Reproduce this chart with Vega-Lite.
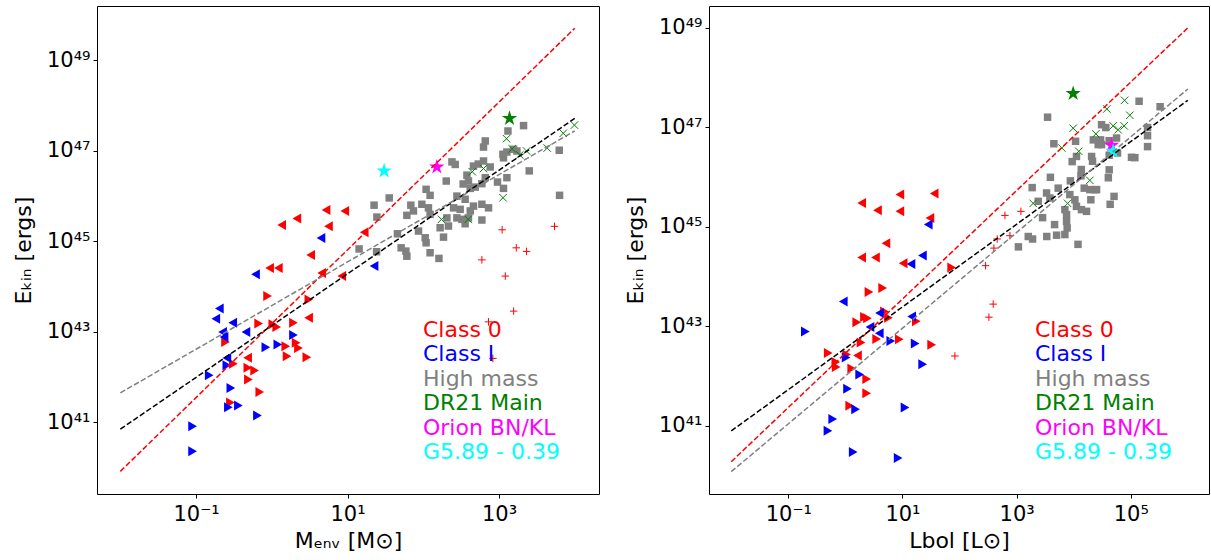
{
"$schema": "https://vega.github.io/schema/vega-lite/v6.json",
"padding": {"left": 11, "top": 5, "right": 2, "bottom": 5},
"bounds": "flush",
"spacing": 110,
"config": {
  "font": "DejaVu Sans",
  "view": {"stroke": "#000", "strokeWidth": 1},
  "axis": {"grid": false, "domain": false, "tickColor": "#000", "tickSize": 4, "labelColor": "#000", "titleColor": "#000", "labelFont": "DejaVu Sans", "titleFont": "DejaVu Sans", "labelFontSize": 21, "titleFontSize": 22, "titleFontWeight": "normal", "labelFlush": false, "labelOverlap": false},
  "legend": {"padding": 0}
},
"resolve": {"scale": {"color": "independent", "shape": "independent"}, "legend": {"color": "independent"}},
"datasets": {
"left": [
{"g":"Class 0","s":"tri-left","x":5.2,"y":4.9e45},{"g":"Class 0","s":"tri-left","x":9.2,"y":4.7e45},{"g":"Class 0","s":"tri-left","x":2.14,"y":3.2e45},{"g":"Class 0","s":"tri-left","x":1.35,"y":2.3e45},{"g":"Class 0","s":"tri-left","x":5.6,"y":2.16e45},{"g":"Class 0","s":"tri-left","x":16.6,"y":1.6e45},{"g":"Class 0","s":"tri-left","x":3.26,"y":5.0e44},{"g":"Class 0","s":"tri-left","x":0.935,"y":2.57e44},{"g":"Class 0","s":"tri-left","x":1.22,"y":2.57e44},{"g":"Class 0","s":"tri-left","x":4.55,"y":2.0e44},{"g":"Class 0","s":"tri-left","x":8.4,"y":1.71e44},{"g":"Class 0","s":"tri-left","x":3.06,"y":2.05e43},{"g":"Class 0","s":"tri-left","x":0.479,"y":2.7e42},
{"g":"Class 0","s":"tri-right","x":0.88,"y":6.2e43},{"g":"Class 0","s":"tri-right","x":3.08,"y":5.2e43},{"g":"Class 0","s":"tri-right","x":0.67,"y":1.54e43},{"g":"Class 0","s":"tri-right","x":1.03,"y":1.47e43},{"g":"Class 0","s":"tri-right","x":1.16,"y":1.28e43},{"g":"Class 0","s":"tri-right","x":1.93,"y":1.6e43},{"g":"Class 0","s":"tri-right","x":0.245,"y":5.96e42},{"g":"Class 0","s":"tri-right","x":1.53,"y":4.85e42},{"g":"Class 0","s":"tri-right","x":2.09,"y":5.8e42},{"g":"Class 0","s":"tri-right","x":2.25,"y":4.4e42},{"g":"Class 0","s":"tri-right","x":1.59,"y":2.9e42},{"g":"Class 0","s":"tri-right","x":2.9,"y":2.77e42},{"g":"Class 0","s":"tri-right","x":0.311,"y":1.97e42},{"g":"Class 0","s":"tri-right","x":0.482,"y":1.61e42},{"g":"Class 0","s":"tri-right","x":0.593,"y":1.41e42},{"g":"Class 0","s":"tri-right","x":0.491,"y":8.9e41},{"g":"Class 0","s":"tri-right","x":0.693,"y":4.68e41},{"g":"Class 0","s":"tri-right","x":0.284,"y":2.77e41},
{"g":"Class 0","s":"plus","x":1100,"y":1.8e45},{"g":"Class 0","s":"plus","x":5400,"y":2.15e45},{"g":"Class 0","s":"plus","x":1690,"y":7.2e44},{"g":"Class 0","s":"plus","x":2310,"y":6.0e44},{"g":"Class 0","s":"plus","x":594,"y":3.9e44},{"g":"Class 0","s":"plus","x":1210,"y":1.71e44},{"g":"Class 0","s":"plus","x":1560,"y":2.88e43},{"g":"Class 0","s":"plus","x":727,"y":1.67e43},{"g":"Class 0","s":"plus","x":830,"y":2.6e42},
{"g":"Class I","s":"tri-left","x":4.46,"y":1.18e45},{"g":"Class I","s":"tri-left","x":22.4,"y":2.84e44},{"g":"Class I","s":"tri-left","x":0.61,"y":1.87e44},{"g":"Class I","s":"tri-left","x":0.203,"y":3.3e43},{"g":"Class I","s":"tri-left","x":0.182,"y":1.95e43},{"g":"Class I","s":"tri-left","x":0.305,"y":1.59e43},{"g":"Class I","s":"tri-left","x":0.224,"y":9.9e42},{"g":"Class I","s":"tri-left","x":0.455,"y":9.9e42},{"g":"Class I","s":"tri-left","x":0.234,"y":7.7e42},{"g":"Class I","s":"tri-left","x":0.255,"y":2.64e42},
{"g":"Class I","s":"tri-right","x":1.93,"y":8.5e42},{"g":"Class I","s":"tri-right","x":0.834,"y":4.6e42},{"g":"Class I","s":"tri-right","x":1.2,"y":5.3e42},{"g":"Class I","s":"tri-right","x":0.255,"y":1.83e42},{"g":"Class I","s":"tri-right","x":0.149,"y":1.1e42},{"g":"Class I","s":"tri-right","x":0.288,"y":5.8e41},{"g":"Class I","s":"tri-right","x":0.267,"y":2.18e41},{"g":"Class I","s":"tri-right","x":0.362,"y":2.38e41},{"g":"Class I","s":"tri-right","x":0.646,"y":1.43e41},{"g":"Class I","s":"tri-right","x":0.09,"y":8.2e40},{"g":"Class I","s":"tri-right","x":0.09,"y":2.32e40},
{"g":"High mass","s":"square","x":22.4,"y":6.3e45},{"g":"High mass","s":"square","x":35.5,"y":9.1e45},{"g":"High mass","s":"square","x":24.4,"y":3.44e45},{"g":"High mass","s":"square","x":14.2,"y":6.8e44},{"g":"High mass","s":"square","x":24.2,"y":5.9e44},{"g":"High mass","s":"square","x":45.6,"y":1.47e45},{"g":"High mass","s":"square","x":51,"y":7.2e44},{"g":"High mass","s":"square","x":58.9,"y":6.1e44},{"g":"High mass","s":"square","x":60.7,"y":4.7e44},{"g":"High mass","s":"square","x":68.5,"y":6.3e45},{"g":"High mass","s":"square","x":60.7,"y":3.76e45},{"g":"High mass","s":"square","x":74.2,"y":4.7e45},{"g":"High mass","s":"square","x":86.5,"y":1.69e45},{"g":"High mass","s":"square","x":95.7,"y":6.6e45},{"g":"High mass","s":"square","x":117,"y":5.5e45},{"g":"High mass","s":"square","x":123,"y":3.95e45},{"g":"High mass","s":"square","x":109,"y":1.41e46},{"g":"High mass","s":"square","x":123,"y":1.04e46},{"g":"High mass","s":"square","x":106,"y":1.2e45},{"g":"High mass","s":"square","x":109,"y":9.3e44},{"g":"High mass","s":"square","x":123,"y":5.6e44},{"g":"High mass","s":"square","x":161,"y":4.2e44},{"g":"High mass","s":"square","x":167,"y":2.0e45},{"g":"High mass","s":"square","x":185,"y":1.24e45},{"g":"High mass","s":"square","x":215,"y":2.18e45},{"g":"High mass","s":"square","x":201,"y":2.15e46},{"g":"High mass","s":"square","x":239,"y":5.7e46},{"g":"High mass","s":"square","x":264,"y":5.0e46},{"g":"High mass","s":"square","x":251,"y":5.5e45},{"g":"High mass","s":"square","x":205,"y":3.3e45},{"g":"High mass","s":"square","x":278,"y":3.3e45},{"g":"High mass","s":"square","x":324,"y":3.06e45},{"g":"High mass","s":"square","x":357,"y":2.45e45},{"g":"High mass","s":"square","x":395,"y":3.3e45},{"g":"High mass","s":"square","x":594,"y":2.96e45},{"g":"High mass","s":"square","x":357,"y":8.5e45},{"g":"High mass","s":"square","x":460,"y":6.0e45},{"g":"High mass","s":"square","x":417,"y":4.7e45},{"g":"High mass","s":"square","x":594,"y":6.6e45},{"g":"High mass","s":"square","x":727,"y":5.5e45},{"g":"High mass","s":"square","x":377,"y":2.9e46},{"g":"High mass","s":"square","x":395,"y":2.15e46},{"g":"High mass","s":"square","x":336,"y":1.85e46},{"g":"High mass","s":"square","x":485,"y":1.58e46},{"g":"High mass","s":"square","x":417,"y":1.48e46},{"g":"High mass","s":"square","x":594,"y":1.88e46},{"g":"High mass","s":"square","x":658,"y":2.55e46},{"g":"High mass","s":"square","x":955,"y":2.04e46},{"g":"High mass","s":"square","x":1270,"y":2.55e46},{"g":"High mass","s":"square","x":1146,"y":1.48e46},{"g":"High mass","s":"square","x":460,"y":4.6e46},{"g":"High mass","s":"square","x":531,"y":5.1e46},{"g":"High mass","s":"square","x":624,"y":5.96e46},{"g":"High mass","s":"square","x":765,"y":4.4e46},{"g":"High mass","s":"square","x":1127,"y":8.4e46},{"g":"High mass","s":"square","x":1270,"y":9.4e46},{"g":"High mass","s":"square","x":1556,"y":1.08e47},{"g":"High mass","s":"square","x":1146,"y":7.0e46},{"g":"High mass","s":"square","x":624,"y":1.21e47},{"g":"High mass","s":"square","x":658,"y":1.65e47},{"g":"High mass","s":"square","x":1312,"y":2.74e47},{"g":"High mass","s":"square","x":2108,"y":3.6e47},{"g":"High mass","s":"square","x":6240,"y":1.03e47},{"g":"High mass","s":"square","x":2506,"y":3.6e46},{"g":"High mass","s":"square","x":6300,"y":1.04e46},{"g":"High mass","s":"square","x":278,"y":1.0e46},{"g":"High mass","s":"square","x":307,"y":5.1e45},{"g":"High mass","s":"square","x":1723,"y":9.9e46},
{"g":"DR21 Main","s":"cross","x":443,"y":3.45e46},{"g":"DR21 Main","s":"cross","x":624,"y":4.06e46},{"g":"DR21 Main","s":"cross","x":1256,"y":1.85e47},{"g":"DR21 Main","s":"cross","x":1490,"y":1.11e47},{"g":"DR21 Main","s":"cross","x":1880,"y":8.1e46},{"g":"DR21 Main","s":"cross","x":2310,"y":9.9e46},{"g":"DR21 Main","s":"cross","x":4330,"y":1.15e47},{"g":"DR21 Main","s":"cross","x":7050,"y":2.44e47},{"g":"DR21 Main","s":"cross","x":9900,"y":3.7e47},{"g":"DR21 Main","s":"cross","x":1130,"y":9.2e45},{"g":"DR21 Main","s":"cross","x":174,"y":3.06e45},{"g":"DR21 Main","s":"cross","x":392,"y":3.06e45},
{"g":"DR21 Main","s":"star","x":1376,"y":5.2e47},{"g":"Orion BN/KL","s":"star","x":151,"y":4.4e46},{"g":"G5.89 - 0.39","s":"star","x":30.4,"y":3.6e46}
],
"right": [
{"g":"Class 0","s":"tri-left","x":1.93,"y":3.0e45},{"g":"Class 0","s":"tri-left","x":9.0,"y":4.45e45},{"g":"Class 0","s":"tri-left","x":36,"y":4.66e45},{"g":"Class 0","s":"tri-left","x":3.65,"y":2.15e45},{"g":"Class 0","s":"tri-left","x":9.0,"y":2.05e45},{"g":"Class 0","s":"tri-left","x":30.3,"y":1.5e45},{"g":"Class 0","s":"tri-left","x":5.14,"y":4.7e44},{"g":"Class 0","s":"tri-left","x":1.93,"y":2.43e44},{"g":"Class 0","s":"tri-left","x":3.37,"y":2.43e44},{"g":"Class 0","s":"tri-left","x":10.3,"y":1.85e44},{"g":"Class 0","s":"tri-left","x":1.63,"y":2.6e42},
{"g":"Class 0","s":"tri-right","x":72.8,"y":1.53e44},{"g":"Class 0","s":"tri-right","x":2.59,"y":4.9e43},{"g":"Class 0","s":"tri-right","x":4.5,"y":5.9e43},{"g":"Class 0","s":"tri-right","x":1.58,"y":1.21e43},{"g":"Class 0","s":"tri-right","x":2.16,"y":1.55e43},{"g":"Class 0","s":"tri-right","x":2.44,"y":1.46e43},{"g":"Class 0","s":"tri-right","x":4.84,"y":2.0e43},{"g":"Class 0","s":"tri-right","x":5.69,"y":1.49e43},{"g":"Class 0","s":"tri-right","x":17.5,"y":1.26e43},{"g":"Class 0","s":"tri-right","x":3.53,"y":5.6e42},{"g":"Class 0","s":"tri-right","x":8.8,"y":5.5e42},{"g":"Class 0","s":"tri-right","x":32.5,"y":4.27e42},{"g":"Class 0","s":"tri-right","x":1.88,"y":4.74e42},{"g":"Class 0","s":"tri-right","x":0.5,"y":2.9e42},{"g":"Class 0","s":"tri-right","x":1.05,"y":2.72e42},{"g":"Class 0","s":"tri-right","x":0.68,"y":1.92e42},{"g":"Class 0","s":"tri-right","x":0.69,"y":1.52e42},{"g":"Class 0","s":"tri-right","x":1.29,"y":1.42e42},{"g":"Class 0","s":"tri-right","x":2.36,"y":8.7e41},{"g":"Class 0","s":"tri-right","x":2.36,"y":4.5e41},{"g":"Class 0","s":"tri-right","x":1.19,"y":2.54e41},
{"g":"Class 0","s":"plus","x":624,"y":1.7e45},{"g":"Class 0","s":"plus","x":1190,"y":2.05e45},{"g":"Class 0","s":"plus","x":457,"y":5.7e44},{"g":"Class 0","s":"plus","x":764,"y":6.65e44},{"g":"Class 0","s":"plus","x":400,"y":3.74e44},{"g":"Class 0","s":"plus","x":286,"y":1.66e44},{"g":"Class 0","s":"plus","x":83,"y":2.54e42},{"g":"Class 0","s":"plus","x":327,"y":1.53e43},{"g":"Class 0","s":"plus","x":389,"y":2.8e43},
{"g":"Class I","s":"tri-left","x":28.3,"y":1.12e45},{"g":"Class I","s":"tri-left","x":22.4,"y":2.67e44},{"g":"Class I","s":"tri-left","x":14.1,"y":1.79e44},{"g":"Class I","s":"tri-left","x":0.92,"y":3.17e43},{"g":"Class I","s":"tri-left","x":3.97,"y":1.85e43},{"g":"Class I","s":"tri-left","x":14.5,"y":1.58e43},{"g":"Class I","s":"tri-left","x":2.7,"y":9.7e42},{"g":"Class I","s":"tri-left","x":3.93,"y":7.3e42},
{"g":"Class I","s":"tri-right","x":6.24,"y":5.1e42},{"g":"Class I","s":"tri-right","x":16.7,"y":4.5e42},{"g":"Class I","s":"tri-right","x":0.199,"y":7.9e42},{"g":"Class I","s":"tri-right","x":1.03,"y":2.37e42},{"g":"Class I","s":"tri-right","x":1.78,"y":1.08e42},{"g":"Class I","s":"tri-right","x":1.09,"y":5.6e41},{"g":"Class I","s":"tri-right","x":22.6,"y":1.73e42},{"g":"Class I","s":"tri-right","x":1.51,"y":2.16e41},{"g":"Class I","s":"tri-right","x":11.1,"y":2.33e41},{"g":"Class I","s":"tri-right","x":0.6,"y":1.38e41},{"g":"Class I","s":"tri-right","x":0.495,"y":8.0e40},{"g":"Class I","s":"tri-right","x":1.37,"y":2.97e40},{"g":"Class I","s":"tri-right","x":8.4,"y":2.27e40},
{"g":"High mass","s":"square","x":3490,"y":1.6e47},{"g":"High mass","s":"square","x":4500,"y":4.68e46},{"g":"High mass","s":"square","x":10800,"y":5.25e46},{"g":"High mass","s":"square","x":22100,"y":5.6e46},{"g":"High mass","s":"square","x":26900,"y":4.5e46},{"g":"High mass","s":"square","x":9420,"y":2.05e46},{"g":"High mass","s":"square","x":11200,"y":2.6e46},{"g":"High mass","s":"square","x":20600,"y":2.6e46},{"g":"High mass","s":"square","x":21400,"y":2.08e46},{"g":"High mass","s":"square","x":3910,"y":9.9e45},{"g":"High mass","s":"square","x":13600,"y":1.42e46},{"g":"High mass","s":"square","x":13400,"y":1.06e46},{"g":"High mass","s":"square","x":8750,"y":8.4e45},{"g":"High mass","s":"square","x":1876,"y":6.15e45},{"g":"High mass","s":"square","x":5350,"y":6.0e45},{"g":"High mass","s":"square","x":3350,"y":4.8e45},{"g":"High mass","s":"square","x":8570,"y":4.45e45},{"g":"High mass","s":"square","x":15300,"y":6.0e45},{"g":"High mass","s":"square","x":19200,"y":5.6e45},{"g":"High mass","s":"square","x":23500,"y":5.6e45},{"g":"High mass","s":"square","x":2390,"y":3.26e45},{"g":"High mass","s":"square","x":3830,"y":3.8e45},{"g":"High mass","s":"square","x":10500,"y":3.5e45},{"g":"High mass","s":"square","x":20000,"y":3.5e45},{"g":"High mass","s":"square","x":11200,"y":2.58e45},{"g":"High mass","s":"square","x":13700,"y":2.22e45},{"g":"High mass","s":"square","x":16800,"y":2.05e45},{"g":"High mass","s":"square","x":7010,"y":2.22e45},{"g":"High mass","s":"square","x":7510,"y":1.76e45},{"g":"High mass","s":"square","x":2850,"y":1.53e45},{"g":"High mass","s":"square","x":4630,"y":1.11e45},{"g":"High mass","s":"square","x":7510,"y":1.29e45},{"g":"High mass","s":"square","x":7690,"y":9.5e44},{"g":"High mass","s":"square","x":7010,"y":7.0e44},{"g":"High mass","s":"square","x":5020,"y":6.8e44},{"g":"High mass","s":"square","x":1600,"y":6.4e44},{"g":"High mass","s":"square","x":1905,"y":5.7e44},{"g":"High mass","s":"square","x":3380,"y":6.4e44},{"g":"High mass","s":"square","x":1076,"y":3.96e44},{"g":"High mass","s":"square","x":11900,"y":4.45e44},{"g":"High mass","s":"square","x":140000,"y":3.35e47},{"g":"High mass","s":"square","x":327000,"y":2.6e47},{"g":"High mass","s":"square","x":30800,"y":1.13e47},{"g":"High mass","s":"square","x":36600,"y":9.9e46},{"g":"High mass","s":"square","x":29600,"y":5.6e46},{"g":"High mass","s":"square","x":56400,"y":6.1e46},{"g":"High mass","s":"square","x":197000,"y":9.9e46},{"g":"High mass","s":"square","x":197000,"y":6.8e46},{"g":"High mass","s":"square","x":197000,"y":4.1e46},{"g":"High mass","s":"square","x":30800,"y":4.5e46},{"g":"High mass","s":"square","x":41900,"y":5.4e46},{"g":"High mass","s":"square","x":41900,"y":2.75e46},{"g":"High mass","s":"square","x":58700,"y":3.05e46},{"g":"High mass","s":"square","x":103000,"y":2.5e46},{"g":"High mass","s":"square","x":118000,"y":2.46e46},{"g":"High mass","s":"square","x":41900,"y":1.4e46},{"g":"High mass","s":"square","x":40500,"y":9.7e45},{"g":"High mass","s":"square","x":25200,"y":5.6e45},{"g":"High mass","s":"square","x":51000,"y":4.1e45},{"g":"High mass","s":"square","x":43600,"y":2.84e45},
{"g":"DR21 Main","s":"cross","x":6210,"y":3.85e46},{"g":"DR21 Main","s":"cross","x":9800,"y":9.6e46},{"g":"DR21 Main","s":"cross","x":12300,"y":3.3e46},{"g":"DR21 Main","s":"cross","x":24500,"y":7.4e46},{"g":"DR21 Main","s":"cross","x":38100,"y":2.34e47},{"g":"DR21 Main","s":"cross","x":49200,"y":1.07e47},{"g":"DR21 Main","s":"cross","x":60100,"y":8.95e46},{"g":"DR21 Main","s":"cross","x":76600,"y":1.07e47},{"g":"DR21 Main","s":"cross","x":77900,"y":3.5e47},{"g":"DR21 Main","s":"cross","x":96400,"y":1.75e47},{"g":"DR21 Main","s":"cross","x":19200,"y":8.6e45},{"g":"DR21 Main","s":"cross","x":1950,"y":2.97e45},{"g":"DR21 Main","s":"cross","x":7820,"y":2.97e45},
{"g":"DR21 Main","s":"star","x":9800,"y":4.8e47},{"g":"Orion BN/KL","s":"star","x":46100,"y":4.37e46},{"g":"G5.89 - 0.39","s":"star","x":49200,"y":3.3e46}
],
"leftFits": [
{"fit":"Class 0","x":0.01,"y":8.3e39},{"fit":"Class 0","x":10000,"y":5.1e49},
{"fit":"All","x":0.01,"y":7.1e40},{"fit":"All","x":10000,"y":5.2e47},
{"fit":"High mass","x":0.01,"y":4.5e41},{"fit":"High mass","x":10000,"y":2.75e47}
],
"rightFits": [
{"fit":"Class 0","x":0.01,"y":1.9e40},{"fit":"Class 0","x":1000000,"y":1.0e49},
{"fit":"All","x":0.01,"y":7.9e40},{"fit":"All","x":1000000,"y":3.5e47},
{"fit":"High mass","x":0.01,"y":1.2e40},{"fit":"High mass","x":1000000,"y":5.9e47}
]
},
"hconcat": [
{
"width": 502, "height": 488,
"data": {"name": "left"},
"encoding": {
  "x": {"field": "x", "type": "quantitative", "scale": {"type": "log", "domain": [0.00492, 20900], "nice": false}, "axis": {"title": "Mₑₙᵥ [M⊙]", "values": [0.1, 10, 1000], "labelExpr": "datum.value < 1 ? '10⁻¹' : datum.value < 100 ? '10¹' : datum.value < 10000 ? '10³' : '10⁵'", "labelPadding": 5, "titleY": 53, "titleBaseline": "alphabetic"}},
  "y": {"field": "y", "type": "quantitative", "scale": {"type": "log", "domain": [2.63e39, 1.58e50], "nice": false}, "axis": {"title": "Eₖᵢₙ [ergs]", "values": [1e41, 1e43, 1e45, 1e47, 1e49], "labelExpr": "datum.value < 1e42 ? '10⁴¹' : datum.value < 1e44 ? '10⁴³' : datum.value < 1e46 ? '10⁴⁵' : datum.value < 1e48 ? '10⁴⁷' : '10⁴⁹'", "labelPadding": 3, "titleX": -67, "titleBaseline": "alphabetic", "titleAngle": 270}},
  "color": {"field": "g", "type": "nominal", "scale": {"domain": ["Class 0", "Class I", "High mass", "DR21 Main", "Orion BN/KL", "G5.89 - 0.39"], "range": ["#ff0000", "#0000ff", "#808080", "#008000", "#ff00ff", "#00ffff"]},
   "legend": {"orient": "none", "legendX": 304, "legendY": 313, "title": null, "symbolSize": 0, "symbolOpacity": 0, "symbolStrokeWidth": 0, "labelFontSize": 22, "labelFont": "DejaVu Sans", "labelOffset": 0, "rowPadding": 2.4, "labelLimit": 400,
    "encode": {"labels": {"update": {"fill": {"signal": "datum.value == 'Class 0' ? '#ff0000' : datum.value == 'Class I' ? '#0000ff' : datum.value == 'High mass' ? '#808080' : datum.value == 'DR21 Main' ? '#008000' : datum.value == 'Orion BN/KL' ? '#ff00ff' : '#00ffff'"}}}}}}
},
"layer": [
{"transform": [{"filter": "datum.s == 'tri-left' || datum.s == 'tri-right'"}], "mark": {"type": "point", "filled": true, "opacity": 1, "strokeWidth": 0, "size": 100},
 "encoding": {"shape": {"field": "s", "type": "nominal", "scale": {"domain": ["tri-left", "tri-right", "square", "star", "plus", "cross"], "range": ["triangle-left", "triangle-right", "square", "M0,-1L0.225,-0.309L0.951,-0.309L0.363,0.118L0.588,0.809L0,0.382L-0.588,0.809L-0.363,0.118L-0.951,-0.309L-0.225,-0.309Z", "M-1,0L1,0M0,-1L0,1", "M-1,-1L1,1M-1,1L1,-1"]}, "legend": null}}},
{"transform": [{"filter": "datum.s == 'square'"}], "mark": {"type": "point", "filled": true, "opacity": 1, "strokeWidth": 0, "size": 56},
 "encoding": {"shape": {"field": "s", "type": "nominal", "scale": {"domain": ["tri-left", "tri-right", "square", "star", "plus", "cross"], "range": ["triangle-left", "triangle-right", "square", "M0,-1L0.225,-0.309L0.951,-0.309L0.363,0.118L0.588,0.809L0,0.382L-0.588,0.809L-0.363,0.118L-0.951,-0.309L-0.225,-0.309Z", "M-1,0L1,0M0,-1L0,1", "M-1,-1L1,1M-1,1L1,-1"]}, "legend": null}}},
{"transform": [{"filter": "datum.s == 'plus' || datum.s == 'cross'"}], "mark": {"type": "point", "filled": false, "opacity": 1, "strokeWidth": 1, "size": 56},
 "encoding": {"shape": {"field": "s", "type": "nominal", "scale": {"domain": ["tri-left", "tri-right", "square", "star", "plus", "cross"], "range": ["triangle-left", "triangle-right", "square", "M0,-1L0.225,-0.309L0.951,-0.309L0.363,0.118L0.588,0.809L0,0.382L-0.588,0.809L-0.363,0.118L-0.951,-0.309L-0.225,-0.309Z", "M-1,0L1,0M0,-1L0,1", "M-1,-1L1,1M-1,1L1,-1"]}, "legend": null}}},
{"transform": [{"filter": "datum.s == 'star'"}], "mark": {"type": "point", "filled": true, "opacity": 1, "strokeWidth": 0, "size": 260},
 "encoding": {"shape": {"field": "s", "type": "nominal", "scale": {"domain": ["tri-left", "tri-right", "square", "star", "plus", "cross"], "range": ["triangle-left", "triangle-right", "square", "M0,-1L0.225,-0.309L0.951,-0.309L0.363,0.118L0.588,0.809L0,0.382L-0.588,0.809L-0.363,0.118L-0.951,-0.309L-0.225,-0.309Z", "M-1,0L1,0M0,-1L0,1", "M-1,-1L1,1M-1,1L1,-1"]}, "legend": null}}},
{"data": {"name": "leftFits"}, "transform": [{"filter": "datum.fit == 'Class 0'"}], "mark": {"type": "line", "strokeWidth": 1.5, "strokeDash": [5.5, 2.4]}, "encoding": {"color": {"value": "#ff0000"}}},
{"data": {"name": "leftFits"}, "transform": [{"filter": "datum.fit == 'All'"}], "mark": {"type": "line", "strokeWidth": 1.5, "strokeDash": [5.5, 2.4]}, "encoding": {"color": {"value": "#000000"}}},
{"data": {"name": "leftFits"}, "transform": [{"filter": "datum.fit == 'High mass'"}], "mark": {"type": "line", "strokeWidth": 1.5, "strokeDash": [5.5, 2.4]}, "encoding": {"color": {"value": "#808080"}}}
]
},
{
"width": 500, "height": 488,
"data": {"name": "right"},
"encoding": {
  "x": {"field": "x", "type": "quantitative", "scale": {"type": "log", "domain": [0.00408, 2350000], "nice": false}, "axis": {"title": "Lbol [L⊙]", "values": [0.1, 10, 1000, 100000], "labelExpr": "datum.value < 1 ? '10⁻¹' : datum.value < 100 ? '10¹' : datum.value < 10000 ? '10³' : '10⁵'", "labelPadding": 5, "titleY": 53, "titleBaseline": "alphabetic"}},
  "y": {"field": "y", "type": "quantitative", "scale": {"type": "log", "domain": [4.27e39, 2.75e49], "nice": false}, "axis": {"title": "Eₖᵢₙ [ergs]", "values": [1e41, 1e43, 1e45, 1e47, 1e49], "labelExpr": "datum.value < 1e42 ? '10⁴¹' : datum.value < 1e44 ? '10⁴³' : datum.value < 1e46 ? '10⁴⁵' : datum.value < 1e48 ? '10⁴⁷' : '10⁴⁹'", "labelPadding": 3, "titleX": -67, "titleBaseline": "alphabetic", "titleAngle": 270}},
  "color": {"field": "g", "type": "nominal", "scale": {"domain": ["Class 0", "Class I", "High mass", "DR21 Main", "Orion BN/KL", "G5.89 - 0.39"], "range": ["#ff0000", "#0000ff", "#808080", "#008000", "#ff00ff", "#00ffff"]},
   "legend": {"orient": "none", "legendX": 304, "legendY": 313, "title": null, "symbolSize": 0, "symbolOpacity": 0, "symbolStrokeWidth": 0, "labelFontSize": 22, "labelFont": "DejaVu Sans", "labelOffset": 0, "rowPadding": 2.4, "labelLimit": 400,
    "encode": {"labels": {"update": {"fill": {"signal": "datum.value == 'Class 0' ? '#ff0000' : datum.value == 'Class I' ? '#0000ff' : datum.value == 'High mass' ? '#808080' : datum.value == 'DR21 Main' ? '#008000' : datum.value == 'Orion BN/KL' ? '#ff00ff' : '#00ffff'"}}}}}}
},
"layer": [
{"transform": [{"filter": "datum.s == 'tri-left' || datum.s == 'tri-right'"}], "mark": {"type": "point", "filled": true, "opacity": 1, "strokeWidth": 0, "size": 100},
 "encoding": {"shape": {"field": "s", "type": "nominal", "scale": {"domain": ["tri-left", "tri-right", "square", "star", "plus", "cross"], "range": ["triangle-left", "triangle-right", "square", "M0,-1L0.225,-0.309L0.951,-0.309L0.363,0.118L0.588,0.809L0,0.382L-0.588,0.809L-0.363,0.118L-0.951,-0.309L-0.225,-0.309Z", "M-1,0L1,0M0,-1L0,1", "M-1,-1L1,1M-1,1L1,-1"]}, "legend": null}}},
{"transform": [{"filter": "datum.s == 'square'"}], "mark": {"type": "point", "filled": true, "opacity": 1, "strokeWidth": 0, "size": 56},
 "encoding": {"shape": {"field": "s", "type": "nominal", "scale": {"domain": ["tri-left", "tri-right", "square", "star", "plus", "cross"], "range": ["triangle-left", "triangle-right", "square", "M0,-1L0.225,-0.309L0.951,-0.309L0.363,0.118L0.588,0.809L0,0.382L-0.588,0.809L-0.363,0.118L-0.951,-0.309L-0.225,-0.309Z", "M-1,0L1,0M0,-1L0,1", "M-1,-1L1,1M-1,1L1,-1"]}, "legend": null}}},
{"transform": [{"filter": "datum.s == 'plus' || datum.s == 'cross'"}], "mark": {"type": "point", "filled": false, "opacity": 1, "strokeWidth": 1, "size": 56},
 "encoding": {"shape": {"field": "s", "type": "nominal", "scale": {"domain": ["tri-left", "tri-right", "square", "star", "plus", "cross"], "range": ["triangle-left", "triangle-right", "square", "M0,-1L0.225,-0.309L0.951,-0.309L0.363,0.118L0.588,0.809L0,0.382L-0.588,0.809L-0.363,0.118L-0.951,-0.309L-0.225,-0.309Z", "M-1,0L1,0M0,-1L0,1", "M-1,-1L1,1M-1,1L1,-1"]}, "legend": null}}},
{"transform": [{"filter": "datum.s == 'star'"}], "mark": {"type": "point", "filled": true, "opacity": 1, "strokeWidth": 0, "size": 260},
 "encoding": {"shape": {"field": "s", "type": "nominal", "scale": {"domain": ["tri-left", "tri-right", "square", "star", "plus", "cross"], "range": ["triangle-left", "triangle-right", "square", "M0,-1L0.225,-0.309L0.951,-0.309L0.363,0.118L0.588,0.809L0,0.382L-0.588,0.809L-0.363,0.118L-0.951,-0.309L-0.225,-0.309Z", "M-1,0L1,0M0,-1L0,1", "M-1,-1L1,1M-1,1L1,-1"]}, "legend": null}}},
{"data": {"name": "rightFits"}, "transform": [{"filter": "datum.fit == 'Class 0'"}], "mark": {"type": "line", "strokeWidth": 1.5, "strokeDash": [5.5, 2.4]}, "encoding": {"color": {"value": "#ff0000"}}},
{"data": {"name": "rightFits"}, "transform": [{"filter": "datum.fit == 'All'"}], "mark": {"type": "line", "strokeWidth": 1.5, "strokeDash": [5.5, 2.4]}, "encoding": {"color": {"value": "#000000"}}},
{"data": {"name": "rightFits"}, "transform": [{"filter": "datum.fit == 'High mass'"}], "mark": {"type": "line", "strokeWidth": 1.5, "strokeDash": [5.5, 2.4]}, "encoding": {"color": {"value": "#808080"}}}
]
}
]
}
